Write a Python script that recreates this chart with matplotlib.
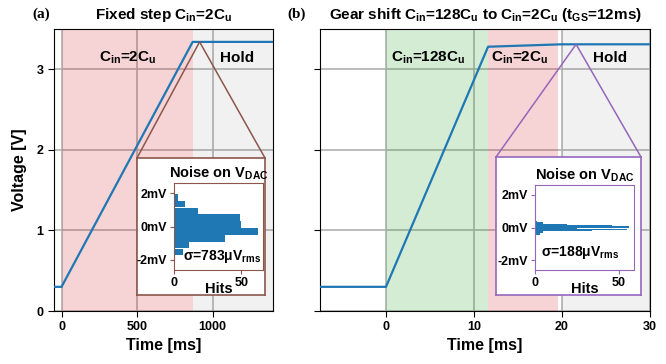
import matplotlib
matplotlib.use('Agg')
import matplotlib.pyplot as plt
from matplotlib.patches import ConnectionPatch

plt.rcParams['font.family'] = ['Liberation Sans', 'DejaVu Sans']
plt.rcParams['font.weight'] = 'bold'
plt.rcParams['axes.labelweight'] = 'bold'
plt.rcParams['axes.titleweight'] = 'bold'
plt.rcParams['mathtext.default'] = 'regular'

# panel (a): fixed step
t_a = [-50, 0, 868, 1400]
v_a = [0.3, 0.3, 3.34, 3.34]
# panel (b): gear shift
t_b = [-7.5, 0, 11.6, 20, 30]
v_b = [0.3, 0.3, 3.28, 3.31, 3.31]

# noise histograms (bin centre in mV, hits)
noise_a_mv = [-1.92, -1.52, -1.11, -0.70, -0.29, 0.12, 0.52, 0.93, 1.34, 1.75]
noise_a_hits = [1, 7, 11, 38, 62, 50, 49, 18, 8, 3]
noise_b_mv = [-0.44, -0.36, -0.28, -0.20, -0.12, -0.04, 0.04, 0.12, 0.20, 0.28, 0.36]
noise_b_hits = [3, 3, 5, 34, 55, 25, 56, 46, 19, 5, 1]

fig = plt.figure(figsize=(6.66, 3.64), dpi=100)
ax1 = fig.add_axes([54/666, 1-311/364, 219/666, 282/364])
ax2 = fig.add_axes([320/666, 1-311/364, 330/666, 282/364])

for ax in (ax1, ax2):
    ax.grid(True, color='#b0b0b0', lw=1.2)
    ax.set_ylim(0, 3.5)
    ax.set_yticks([0, 1, 2, 3])
    ax.tick_params(labelsize=9, length=4)
    ax.set_xlabel('Time [ms]', fontsize=11.5, labelpad=3)

# (a)
ax1.axvspan(0, 868, color='tab:red', alpha=0.2, lw=0, zorder=2)
ax1.axvspan(868, 1400, color='tab:gray', alpha=0.1, lw=0, zorder=2)
ax1.plot(t_a, v_a, color='tab:blue', lw=1.6, zorder=3)
ax1.set_xlim(-50, 1400)
ax1.set_xticks([0, 500, 1000])
ax1.set_ylabel('Voltage [V]', fontsize=11.5, labelpad=7)
ax1.set_title('Fixed step C$_{in}$=2C$_{u}$', fontsize=11, pad=7)
ax1.text(437, 3.14, 'C$_{in}$=2C$_{u}$', fontsize=11, ha='center', va='center')
ax1.text(1160, 3.14, 'Hold', fontsize=11, ha='center', va='center')

# (b)
ax2.axvspan(0, 11.6, color='tab:green', alpha=0.2, lw=0, zorder=2)
ax2.axvspan(11.6, 19.6, color='tab:red', alpha=0.2, lw=0, zorder=2)
ax2.axvspan(20, 30, color='tab:gray', alpha=0.1, lw=0, zorder=2)
ax2.plot(t_b, v_b, color='tab:blue', lw=1.6, zorder=3)
ax2.set_xlim(-7.5, 30)
ax2.set_xticks([0, 10, 20, 30])
ax2.set_yticklabels([])
ax2.set_title('Gear shift C$_{in}$=128C$_{u}$ to C$_{in}$=2C$_{u}$ (t$_{GS}$=12ms)', fontsize=11, pad=7)
ax2.text(4.8, 3.14, 'C$_{in}$=128C$_{u}$', fontsize=11, ha='center', va='center')
ax2.text(15.2, 3.14, 'C$_{in}$=2C$_{u}$', fontsize=11, ha='center', va='center')
ax2.text(25.5, 3.14, 'Hold', fontsize=11, ha='center', va='center')


def noise_inset(ax, peak, box_rect, hist_rect, color, mv, hits, height, xmax, sigma, sx, sy, sha):
    box = fig.add_axes(box_rect, zorder=5)
    box.set_xticks([])
    box.set_yticks([])
    for s in box.spines.values():
        s.set_color(color)
        s.set_linewidth(1.2)
    for corner in [(0, 1), (1, 1)]:
        con = ConnectionPatch(xyA=peak, coordsA=ax.transData, xyB=corner, coordsB=box.transAxes,
                              color=color, lw=1.1, zorder=4)
        fig.add_artist(con)
    h = fig.add_axes(hist_rect, zorder=6)
    h.barh(mv, hits, height=height, color='tab:blue')
    h.set_xlim(0, xmax)
    h.set_ylim(-2.6, 2.6)
    h.set_xticks([0, 50])
    h.set_yticks([-2, 0, 2])
    h.set_yticklabels(['-2mV', '0mV', '2mV'])
    h.tick_params(labelsize=9, length=3, color=color, pad=2)
    for s in h.spines.values():
        s.set_color(color)
    h.set_xlabel('Hits', fontsize=10.5, labelpad=-5)
    h.set_title('Noise on V$_{DAC}$', fontsize=10.5, pad=4)
    h.text(sx, sy, sigma, transform=h.transAxes, fontsize=10, ha=sha, va='baseline')


noise_inset(ax1, (914, 3.34), [137/666, 1-295/364, 128/666, 137/364],
            [174/666, 1-270/364, 89/666, 87/364], 'tab:brown',
            noise_a_mv, noise_a_hits, 0.408, 66, 'σ=783μV$_{rms}$', 0.98, 0.12, 'right')
noise_inset(ax2, (21.6, 3.31), [496/666, 1-295/364, 145/666, 138/364],
            [535/666, 1-270/364, 99/666, 85/364], 'tab:purple',
            noise_b_mv, noise_b_hits, 0.08, 59, 'σ=188μV$_{rms}$', 0.45, 0.16, 'center')

fig.text(41/666, 1-14/364, '(a)', family='Liberation Serif', weight='bold', fontsize=11, ha='center', va='center')
fig.text(297/666, 1-14/364, '(b)', family='Liberation Serif', weight='bold', fontsize=11, ha='center', va='center')

fig.savefig('out.png', dpi=100)
